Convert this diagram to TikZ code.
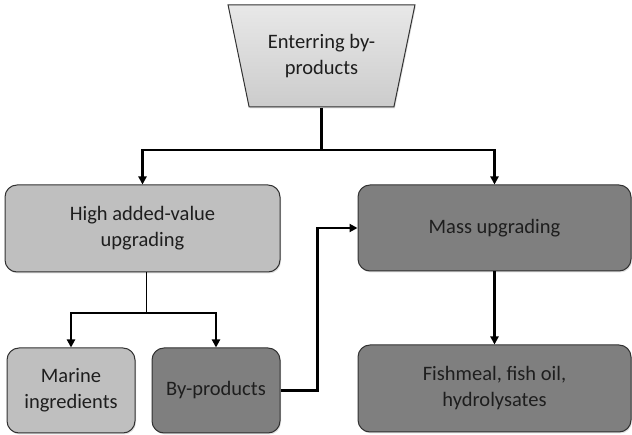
\documentclass[tikz,border=0pt]{standalone}
\usepackage{fontspec}
\setmainfont{Carlito}
\usetikzlibrary{
    shapes.geometric,
    arrows.meta,
    positioning,
    shadows
}
\definecolor{lightbox}{RGB}{191, 191, 191}
\definecolor{darkbox}{RGB}{127, 127, 127}
\definecolor{boxline}{RGB}{50, 50, 50}
\definecolor{txtgray}{RGB}{30, 30, 30}

\begin{document}
\begin{tikzpicture}[
        x=1pt, y=-1pt,
        box/.style={rectangle, draw=boxline, line width=1pt, rounded corners=12pt, align=center,
            text=txtgray, font=\fontsize{20.5}{26}\selectfont, inner sep=0pt,
            drop shadow={opacity=0.25, shadow xshift=1pt, shadow yshift=-1.5pt}},
        funnel/.style={trapezium, shape border rotate=180, trapezium left angle=70.3, trapezium right angle=70.3,
            trapezium stretches=true, draw=boxline, line width=1pt, align=center, text=txtgray,
            font=\fontsize{20.5}{26}\selectfont, top color=gray!18, bottom color=gray!40, inner sep=0pt,
            drop shadow={opacity=0.25, shadow xshift=1pt, shadow yshift=-1.5pt}},
        arrow/.style={-{Triangle[width=8pt,length=8pt]}, line width=2.2pt},
        link/.style={line width=2.2pt},
        thinlink/.style={line width=0.9pt}
    ]
        \useasboundingbox (0,0) rectangle (632,435);

        % Row 1: Input funnel
        \node[funnel, minimum width=187pt, minimum height=102pt] (enter) at (321.5,56) {Enterring by-\\products};

        % Row 2: Upgrading routes
        \node[box, fill=lightbox, minimum width=275pt, minimum height=87pt] (high) at (142.5,228.5) {High added-value\\upgrading};
        \node[box, fill=darkbox, minimum width=273pt, minimum height=86pt] (mass) at (494.5,228) {Mass upgrading};

        % Row 3: Products
        \node[box, fill=lightbox, minimum width=128pt, minimum height=85pt] (marine) at (71,390.5) {Marine\\ingredients};
        \node[box, fill=darkbox, minimum width=128pt, minimum height=85pt] (byprod) at (216,390.5) {By-products};
        \node[box, fill=darkbox, minimum width=273pt, minimum height=87pt] (fish) at (494.5,388.5) {Fishmeal, fish oil,\\hydrolysates};

        % Split points
        \coordinate (topsplit) at (318,150);
        \coordinate (lowsplit) at (146,313);

        % Arrows - funnel splits into both routes
        \draw[link] (enter.south) -- (enter.south |- topsplit);
        \draw[arrow] (enter.south |- topsplit) -| (high.north);
        \draw[arrow] (enter.south |- topsplit) -| (mass.north);

        % High added-value gives two products
        \draw[thinlink] (high.south -| lowsplit) -- (lowsplit);
        \draw[arrow] (lowsplit) -| (marine.north);
        \draw[arrow] (lowsplit) -| (byprod.north);

        % By-products go back to mass upgrading
        \draw[arrow] (byprod.east) -- ++(37,0) |- (mass.west);
        \draw[arrow] (mass) -- (fish);
    \end{tikzpicture}
\end{document}
